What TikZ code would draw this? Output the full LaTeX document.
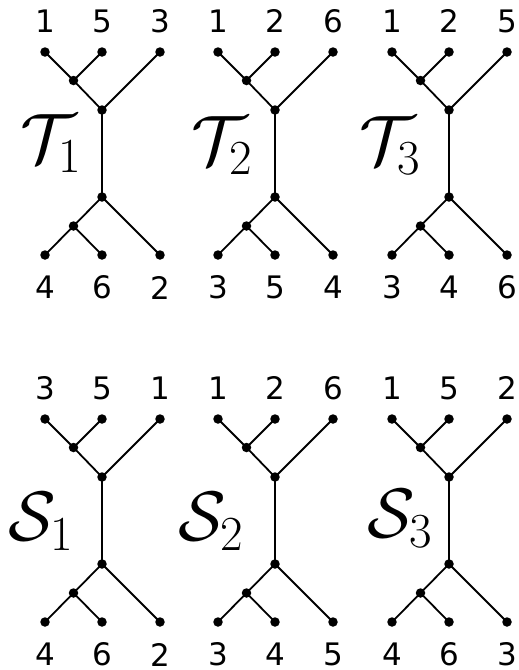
\RequirePackage{fix-cm}
\documentclass[tikz,border=0pt]{standalone}
\usepackage{fontspec}
\newfontfamily\digitfont{DejaVu Sans}
\tikzset{
  leafdot/.style={circle,fill=black,inner sep=0pt,minimum size=9.5pt},
  edgeline/.style={line width=1.8pt},
  numlab/.style={font=\digitfont\fontsize{31}{36}\selectfont, inner sep=0pt},
  treename/.style={font=\fontsize{70}{82}\selectfont, inner sep=0pt, anchor=base west}
}
% #1 prefix, #2 x shift, #3 y shift, #4-#6 top labels, #7-#9 bottom labels
\newcommand\drawtree[9]{%
  \begin{scope}[shift={(#2,#3)}]
    \node[leafdot] (#1ta) at (45,52) {};
    \node[leafdot] (#1tb) at (102,52) {};
    \node[leafdot] (#1tc) at (160,52) {};
    \node[leafdot] (#1ti) at (73.5,80.5) {};
    \node[leafdot] (#1tj) at (102,110) {};
    \node[leafdot] (#1bj) at (102,197) {};
    \node[leafdot] (#1bi) at (73.5,226) {};
    \node[leafdot] (#1ba) at (45,255) {};
    \node[leafdot] (#1bb) at (102,255) {};
    \node[leafdot] (#1bc) at (160,255) {};
    \draw[edgeline] (#1ta.center) -- (#1ti.center) -- (#1tj.center) -- (#1tc.center);
    \draw[edgeline] (#1tb.center) -- (#1ti.center);
    \draw[edgeline] (#1tj.center) -- (#1bj.center);
    \draw[edgeline] (#1ba.center) -- (#1bi.center) -- (#1bj.center) -- (#1bc.center);
    \draw[edgeline] (#1bb.center) -- (#1bi.center);
    \node[numlab] (#1la) at (45,21) {#4};
    \node[numlab] (#1lb) at (102,21) {#5};
    \node[numlab] (#1lc) at (160,21) {#6};
    \node[numlab] (#1ld) at (45,287.5) {#7};
    \node[numlab] (#1le) at (102,287.5) {#8};
    \node[numlab] (#1lf) at (160,287.5) {#9};
  \end{scope}}
\begin{document}
\begin{tikzpicture}[x=1pt,y=-1pt]
  \useasboundingbox (0,0) rectangle (519,670);
  \drawtree{ta}{0}{0}{1}{5}{3}{4}{6}{2}
  \drawtree{tb}{173}{0}{1}{2}{6}{3}{5}{4}
  \drawtree{tc}{347}{0}{1}{2}{5}{3}{4}{6}
  \drawtree{sa}{0}{367}{3}{5}{1}{4}{6}{2}
  \drawtree{sb}{173}{367}{1}{2}{6}{3}{4}{5}
  \drawtree{sc}{347}{367}{1}{5}{2}{4}{6}{3}
  \node[treename] (nt1) at (20,162) {$\mathcal{T}_1$};
  \node[treename] (nt2) at (191,164) {$\mathcal{T}_2$};
  \node[treename] (nt3) at (359,164) {$\mathcal{T}_3$};
  \node[treename] (ns1) at (8,540) {$\mathcal{S}_1$};
  \node[treename] (ns2) at (178,540) {$\mathcal{S}_2$};
  \node[treename] (ns3) at (367,537) {$\mathcal{S}_3$};
\end{tikzpicture}
\end{document}
